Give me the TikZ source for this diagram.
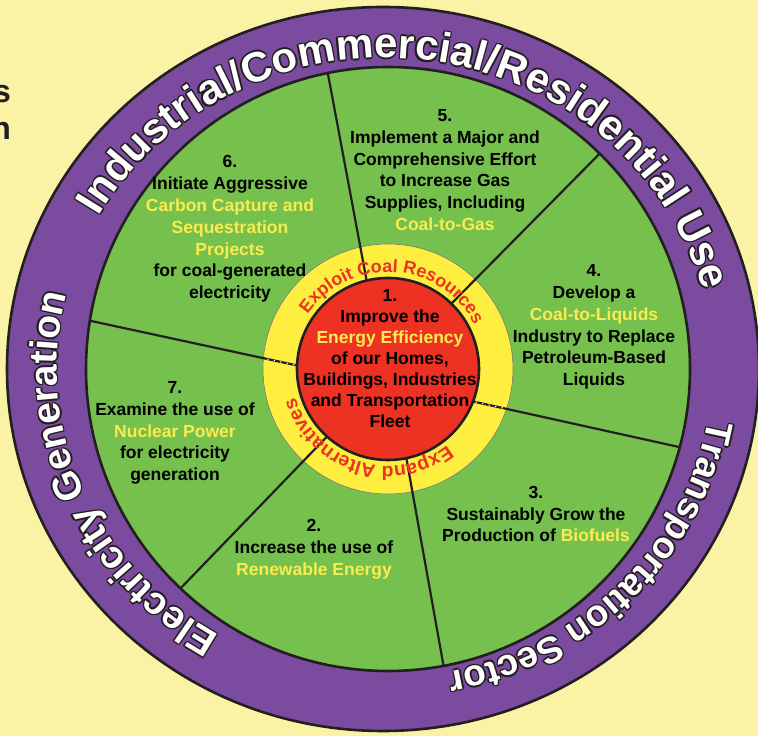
\documentclass[tikz,border=0pt]{standalone}
\usepackage{fontspec}
\setmainfont{Liberation Sans}
\usepackage{tikz}
\usetikzlibrary{calc,decorations.text}

\definecolor{paper}{RGB}{250,243,165}
\definecolor{bandpurple}{RGB}{122,75,158}
\definecolor{fieldgreen}{RGB}{118,192,78}
\definecolor{ringyellow}{RGB}{253,238,64}
\definecolor{corered}{RGB}{237,50,36}
\definecolor{hilite}{RGB}{250,236,80}
\definecolor{ink}{RGB}{35,31,32}
\newcommand{\hl}[1]{\textcolor{hilite}{#1}}
\newcommand{\bandbig}{\bfseries\fontsize{42}{42}\selectfont}
\newcommand{\bandmid}{\bfseries\fontsize{39}{39}\selectfont}
\newcommand{\bandsmall}{\bfseries\fontsize{37}{37}\selectfont}
\newcommand{\ringfont}{\bfseries\fontsize{18}{18}\selectfont}
\newcommand{\ringwide}{\bfseries\fontsize{19.5}{19.5}\selectfont}

\begin{document}
\begin{tikzpicture}[x=1pt, y=1pt,
	outline/.style={draw=ink, line width=2.6pt},
	spoke/.style={draw=ink, line width=2.2pt},
	dots/.style={draw=white, line width=1.6pt, line cap=round, dash pattern=on 0pt off 6.6pt},
	goal/.style={align=center, inner sep=0pt, font=\bfseries\fontsize{17.5}{21.8}\selectfont},
	cut/.style={anchor=base east, inner sep=0pt, text=ink, font=\bfseries\fontsize{32}{36}\selectfont},
	arctext/.style n args={3}{decorate, decoration={text along path, text align=center, text color=#3, text={|#1|#2}}}]
	\useasboundingbox (0,0) rectangle (758,736);
	\fill[paper] (0,0) rectangle (758,736);
	\coordinate (o) at (388,367);
	\coordinate (u) at (383,367);
	\coordinate (bc) at (385,368);
	\node[cut] (cut-s) at (11,633) {s};
	\node[cut] (cut-n) at (11,596) {n};
	\filldraw[fill=bandpurple, outline] (u) ellipse[x radius=376, y radius=362];
	\filldraw[fill=fieldgreen, outline] (o) circle[radius=302];
	\filldraw[fill=ringyellow, draw=ink!60, line width=0.6pt] (o) circle[radius=125];
	\foreach \n/\ai/\ao in {sa/103.7/101.5, sb/45.9/45.5, sc/-21.2/-15, sd/178.1/170.8, se/228/226.6, sf/-78.3/-79.4}{
		\coordinate (\n-in) at ($(o)+(\ai:88)$);
		\coordinate (\n-out) at ($(o)+(\ao:302)$);
		\draw[spoke] (\n-in) -- (\n-out);
	}
	\draw[dots] ($(sc-in)!0.03!(sc-out)$) -- ($(sc-in)!0.16!(sc-out)$);
	\draw[dots] ($(sd-in)!0.03!(sd-out)$) -- ($(sd-in)!0.16!(sd-out)$);
	\filldraw[fill=corered, outline] (o) circle[radius=91];

	\node[goal, font=\bfseries\fontsize{17.5}{21}\selectfont] (g1) at (390,377) {1.\\Improve the\\\hl{Energy Efficiency}\\of our Homes,\\Buildings, Industries\\and Transportation\\Fleet};
	\node[goal] (g2) at (314,187) {2.\\Increase the use of\\\hl{Renewable Energy}};
	\node[goal] (g3) at (536,222) {3.\\Sustainably Grow the\\Production of \hl{Biofuels}};
	\node[goal] (g4) at (594,409) {4.\\Develop a\\\hl{Coal-to-Liquids}\\Industry to Replace\\Petroleum-Based\\Liquids};
	\node[goal] (g5) at (445,566) {5.\\Implement a Major and\\Comprehensive Effort\\to Increase Gas\\Supplies, Including\\\hl{Coal-to-Gas}};
	\node[goal] (g6) at (230,507) {6.\\Initiate Aggressive\\\hl{Carbon Capture and}\\\hl{Sequestration}\\\hl{Projects}\\for coal-generated\\electricity};
	\node[goal] (g7) at (175,303) {7.\\Examine the use of\\\hl{Nuclear Power}\\for electricity\\generation};

	\path[arctext={\ringfont}{Exploit Coal Resources}{corered}] ($(o)+(176.5:97)$) arc[start angle=176.5, end angle=-3.5, radius=97];
	\path[arctext={\ringwide}{Expand Alternatives}{corered}] ($(o)+(-17.5:97)$) arc[start angle=-17.5, end angle=-197.5, radius=97];

	\foreach \a in {0,45,...,315}{
		\path[arctext={\bandbig}{Industrial/Commercial/Residential Use}{ink}, shift={(bc)}, shift={(\a:1.5)}] (167.5:328 and 310) arc[start angle=167.5, end angle=-2.5, x radius=328, y radius=310];
		\path[arctext={\bandmid}{Electricity Generation}{ink}, shift={(bc)}, shift={(\a:1.5)}] (262.5:328 and 310) arc[start angle=262.5, end angle=142.5, x radius=328, y radius=310];
		\path[arctext={\bandsmall}{Transportation Sector}{ink}, shift={(bc)}, shift={(\a:1.5)}] (16.4:328 and 310) arc[start angle=16.4, end angle=-103.6, x radius=328, y radius=310];
	}
	\path[arctext={\bandbig}{Industrial/Commercial/Residential Use}{white}, shift={(bc)}] (167.5:328 and 310) arc[start angle=167.5, end angle=-2.5, x radius=328, y radius=310];
	\path[arctext={\bandmid}{Electricity Generation}{white}, shift={(bc)}] (262.5:328 and 310) arc[start angle=262.5, end angle=142.5, x radius=328, y radius=310];
	\path[arctext={\bandsmall}{Transportation Sector}{white}, shift={(bc)}] (16.4:328 and 310) arc[start angle=16.4, end angle=-103.6, x radius=328, y radius=310];
\end{tikzpicture}
\end{document}
